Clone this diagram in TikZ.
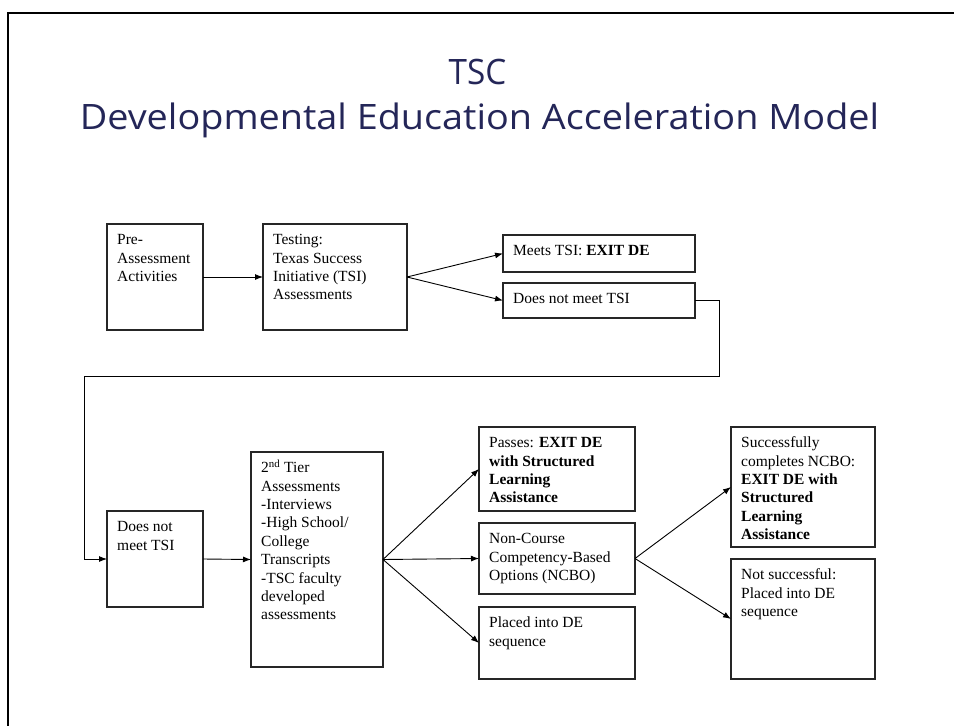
\documentclass[tikz,border=0pt]{standalone}
\usepackage{fontspec}
\setmainfont{Liberation Serif}
\newfontfamily\titlefont{Open Sans}
\usetikzlibrary{arrows.meta}
\definecolor{titlenavy}{RGB}{36,38,88}
\tikzset{
  flowbox/.style={draw=black!85, line width=1.2pt, inner sep=0pt, outer sep=0pt, anchor=north west},
  boxtext/.style={anchor=north west, inner sep=0pt, align=left, font=\fontsize{15.5}{18.4}\selectfont},
  conn/.style={line width=0.9pt, -{Latex[length=8pt,width=6pt]}},
  titletext/.style={anchor=base, text=titlenavy, inner sep=0pt, font=\titlefont\fontsize{35}{40}\selectfont},
  frameline/.style={line width=2.6pt, black},
}
\newcommand{\mkbox}[6]{%
  \node[flowbox, minimum width={#4-#2}, minimum height={#5-#3}] (#1) at (#2,#3) {};
  \node[boxtext] (#1-text) at ([xshift=10pt,yshift=-7.6pt]#1.north west) {\strut #6};
}
\begin{document}
\begin{tikzpicture}[x=1pt,y=-1pt]
\clip (0,0) rectangle (954,726);
\fill[white] (0,0) rectangle (954,726);
\draw[frameline] (8,740) -- (8,13) -- (970,13);

\node[titletext] (tsc) at (477.5,84) {\scalebox{0.95}[1]{TSC}};
\node[titletext] (dem) at (479.5,129) {\scalebox{1.08}[1]{Developmental Education Acceleration Model}};

\mkbox{pre}{107}{224}{203}{330}{Pre-\\Assessment\\Activities}
\mkbox{test}{263}{224}{407}{330}{Testing:\\Texas Success\\Initiative (TSI)\\Assessments}
\mkbox{meets}{503}{235}{695}{272}{Meets TSI: \textbf{EXIT DE}}
\mkbox{dnm}{503}{283}{695}{318}{Does not meet TSI}
\mkbox{dnmb}{107}{511}{203}{607}{Does not\\meet TSI}
\mkbox{tier}{251}{452}{383}{667}{2\textsuperscript{nd} Tier\\Assessments\\-Interviews\\-High School/\\College\\Transcripts\\-TSC faculty\\developed\\assessments}
\mkbox{pass}{479}{427}{635}{511}{Passes: \textbf{EXIT DE}\\\textbf{with Structured}\\\textbf{Learning}\\\textbf{Assistance}}
\mkbox{ncbo}{479}{523}{635}{594}{Non-Course\\Competency-Based\\Options (NCBO)}
\mkbox{placed}{479}{607}{635}{679}{Placed into DE\\sequence}
\mkbox{succ}{731}{427}{875}{547}{Successfully\\completes NCBO:\\\textbf{EXIT DE with}\\\textbf{Structured}\\\textbf{Learning}\\\textbf{Assistance}}
\mkbox{notsucc}{731}{559}{875}{679}{Not successful:\\Placed into DE\\sequence}

\coordinate (r1) at (719,376);
\coordinate (l1) at (84,376);

\draw[conn] (pre.east) -- (test.west);
\draw[conn] (test.east) -- (meets.west);
\draw[conn] (test.east) -- (dnm.west);
\draw[conn] (dnm.east) -| (r1) -- (l1) |- (dnmb.west);
\draw[conn] (dnmb.east) -- (tier.west);
\draw[conn] (tier.east) -- (pass.west);
\draw[conn] (tier.east) -- (ncbo.west);
\draw[conn] (tier.east) -- (placed.west);
\draw[conn] (ncbo.east) -- (succ.west);
\draw[conn] (ncbo.east) -- (notsucc.west);
\end{tikzpicture}
\end{document}
